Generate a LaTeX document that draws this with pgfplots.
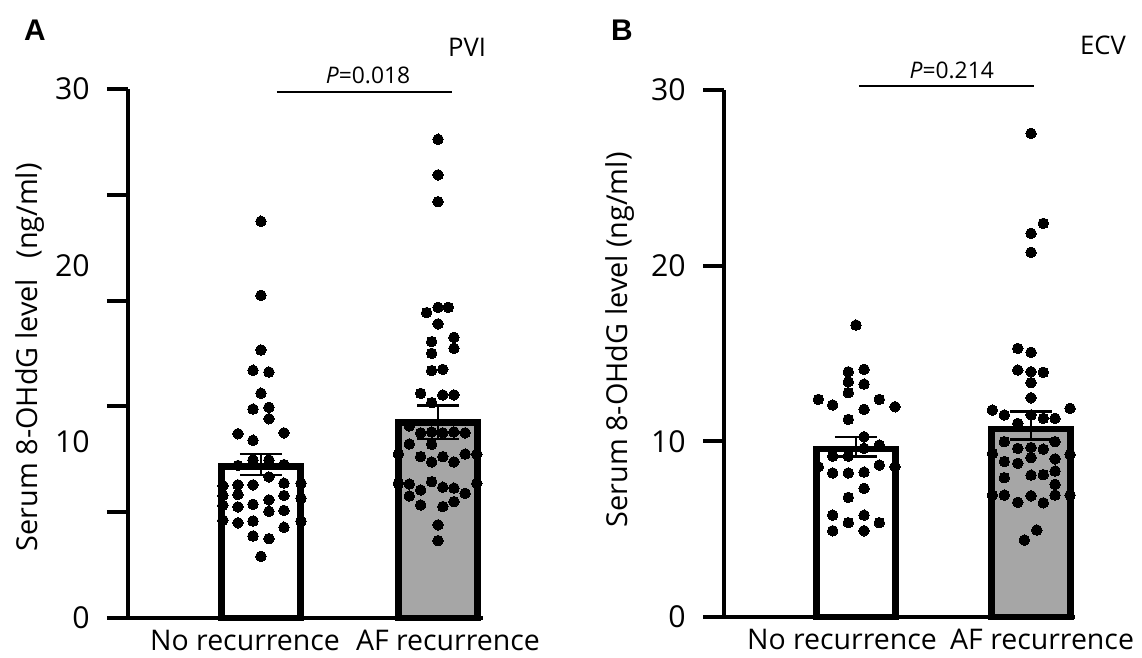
\documentclass[border=0pt]{standalone}
\usepackage{pgfplots}
\pgfplotsset{compat=1.18}
\usepackage{fontspec}
\setmainfont{Open Sans}
\newfontfamily\panelfont{Liberation Sans}
\definecolor{barfill}{RGB}{166,166,166}

\pgfplotsset{
  panel/.style={
    scale only axis, anchor=south west,
    axis lines=left, axis line style={-, line width=0.45mm},
    x axis line style={shorten <=-2.1mm},
    clip=false,
    ymin=0, ymax=30,
    xtick style={draw=none},
    ytick={0,10,20,30},
    tick align=outside,
    major tick length=0pt,
    extra y tick style={major tick length=2.1mm, tick style={line width=0.4mm, black}},
    xticklabel style={font=\fontsize{8.1}{9}\selectfont},
    yticklabel style={font=\fontsize{8.6}{9}\selectfont, anchor=east, xshift=-2.59mm},
    /pgf/number format/assume math mode=true,
    xticklabels={No recurrence, AF recurrence},
    label style={font=\fontsize{8.2}{9}\selectfont},
  },
  dots/.style={only marks, mark=*, mark size=1.5pt,
    mark options={fill=black, draw=black, line width=0pt}},
  bars/.style={ybar, bar width=7.9mm, bar shift=0pt, draw=black, line width=0.65mm},
  sem/.style={mark=none, black, forget plot, error bars/.cd, y dir=both, y explicit,
    error bar style={line width=0.25mm, black},
    error mark options={rotate=90, line width=0.25mm, mark size=2.1mm, black}},
}

% panel A (PVI)
\pgfplotstableread{
x y
1.000 22.5
1.000 18.3
1.000 15.2
0.955 14.05
1.045 13.95
1.000 12.75
0.955 11.85
1.045 11.95
1.045 11.3
0.870 10.45
1.130 10.5
0.955 10.08
0.955 8.96
1.045 8.96
0.870 8.65
1.130 8.7
1.045 8.0
0.870 7.55
0.955 7.55
1.130 7.65
1.226 7.65
0.785 7.5
0.870 7.0
1.130 6.95
0.785 6.95
0.955 6.45
1.045 6.7
0.870 6.3
1.226 6.8
0.785 6.4
1.130 6.1
1.045 6.05
0.955 5.5
0.870 5.4
0.785 5.55
1.226 5.5
1.130 5.15
0.955 4.65
1.045 4.5
1.000 3.5
}\pviNo

\pgfplotstableread{
x y
2.000 27.15
2.000 25.13
2.000 23.61
1.936 17.32
2.000 17.62
2.058 17.62
2.000 16.68
1.964 15.67
2.090 15.92
1.964 15.01
2.090 15.3
1.964 14.03
2.027 14.1
1.902 12.74
2.027 12.65
2.090 12.65
1.964 12.21
1.838 10.89
1.902 10.5
1.964 10.55
2.027 10.5
2.090 10.55
2.153 10.5
1.838 9.87
1.964 9.85
1.776 9.3
1.902 9.15
2.027 9.15
2.153 9.3
2.219 9.3
1.964 8.85
2.090 8.85
1.776 7.64
1.838 7.6
1.902 7.26
1.964 7.73
2.027 7.42
2.090 7.37
2.153 7.07
2.219 7.64
1.838 6.92
1.902 6.41
2.027 6.32
2.090 6.6
2.000 5.28
2.000 4.39
}\pviAF

% panel B (ECV)
\pgfplotstableread{
x y
1.000 16.62
0.956 13.96
1.046 14.1
0.956 13.39
1.046 13.26
0.956 12.77
0.785 12.39
0.867 12.07
1.133 12.39
1.223 11.97
1.046 11.82
0.956 11.25
1.046 10.26
1.133 9.79
0.867 9.16
0.956 9.16
1.046 9.6
0.785 8.55
1.223 8.55
1.133 8.65
0.867 8.2
0.956 8.2
1.046 8.25
1.046 7.32
0.956 6.81
0.867 5.8
1.046 5.8
0.956 5.37
1.133 5.37
0.867 4.91
1.046 4.91
}\ecvNo

\pgfplotstableread{
x y
2.000 27.53
2.070 22.41
2.000 21.84
2.000 20.76
1.924 15.29
2.000 15.07
1.924 14.06
2.000 13.96
2.070 13.93
2.000 13.34
2.000 12.48
1.779 11.78
1.847 11.5
2.223 11.88
1.924 11.02
2.000 11.5
2.070 11.31
2.137 11.31
1.847 9.98
2.137 9.98
1.924 9.6
2.000 9.65
2.070 9.55
1.779 9.3
2.223 9.25
1.847 8.85
1.924 8.75
2.000 9.07
2.137 9.0
2.137 8.31
1.847 7.93
2.000 8.08
2.070 8.1
2.137 7.55
1.779 6.94
1.847 6.94
1.924 6.53
2.000 6.9
2.070 6.5
2.137 6.94
2.223 6.94
2.033 4.95
1.962 4.38
}\ecvAF

\begin{document}
\begin{tikzpicture}
\path[use as bounding box] (0,0) rectangle (11.42cm,6.57cm);

\begin{axis}[panel,
    at={(1.28cm,0.39cm)}, width=3.55cm, height=5.29cm,
    xmin=0.249, xmax=2.254,
    xtick={0.91,2.056},
    extra y ticks={0,6,12,18,24,30},
    extra y tick labels={,,,,,},
    ylabel={Serum 8-OHdG level\hspace{0.45em} (ng/ml)},
    ylabel style={at={(axis description cs:-0.276,0.493)}, anchor=center},
  ]
  \addplot[bars, fill=white] coordinates {(1,8.6)};
  \addplot[bars, fill=barfill] coordinates {(2,11.1)};
  \addplot[dots] table[x=x, y=y] {\pviNo};
  \addplot[dots] table[x=x, y=y] {\pviAF};
  \addplot[sem] coordinates {(1,8.7) +- (0,0.6)};
  \addplot[sem] coordinates {(2,11.1) +- (0,0.95)};
  \draw[line width=0.2mm] (axis cs:1.09,29.84) -- (axis cs:2.079,29.84);
  \node[font=\fontsize{6.5}{8}\selectfont] at (axis cs:1.605,30.8) {\textit{P}=0.018};
  \node[font=\fontsize{7.3}{9}\selectfont] at (axis cs:2.164,32.39) {PVI};
\end{axis}

\begin{axis}[panel,
    at={(7.24cm,0.40cm)}, width=3.51cm, height=5.27cm,
    xmin=0.246, xmax=2.251,
    xtick={0.92,2.063},
    extra y ticks={0,10,20,30},
    extra y tick labels={,,,},
    ylabel={Serum 8-OHdG level (ng/ml)},
    ylabel style={at={(axis description cs:-0.296,0.526)}, anchor=center},
  ]
  \addplot[bars, fill=white] coordinates {(1,9.55)};
  \addplot[bars, fill=barfill] coordinates {(2,10.7)};
  \addplot[dots] table[x=x, y=y] {\ecvNo};
  \addplot[dots] table[x=x, y=y] {\ecvAF};
  \addplot[sem] coordinates {(1,9.7) +- (0,0.55)};
  \addplot[sem] coordinates {(2,10.9) +- (0,0.8)};
  \draw[line width=0.2mm] (axis cs:1.017,30.22) -- (axis cs:2.017,30.22);
  \node[font=\fontsize{6.5}{8}\selectfont] at (axis cs:1.547,31.13) {\textit{P}=0.214};
  \node[font=\fontsize{7.3}{9}\selectfont] at (axis cs:2.411,32.56) {ECV};
\end{axis}

\node[font=\panelfont\bfseries\fontsize{8.5}{10}\selectfont] at (0.35cm,6.27cm) {A};
\node[font=\panelfont\bfseries\fontsize{8.5}{10}\selectfont] at (6.22cm,6.27cm) {B};
\end{tikzpicture}
\end{document}
